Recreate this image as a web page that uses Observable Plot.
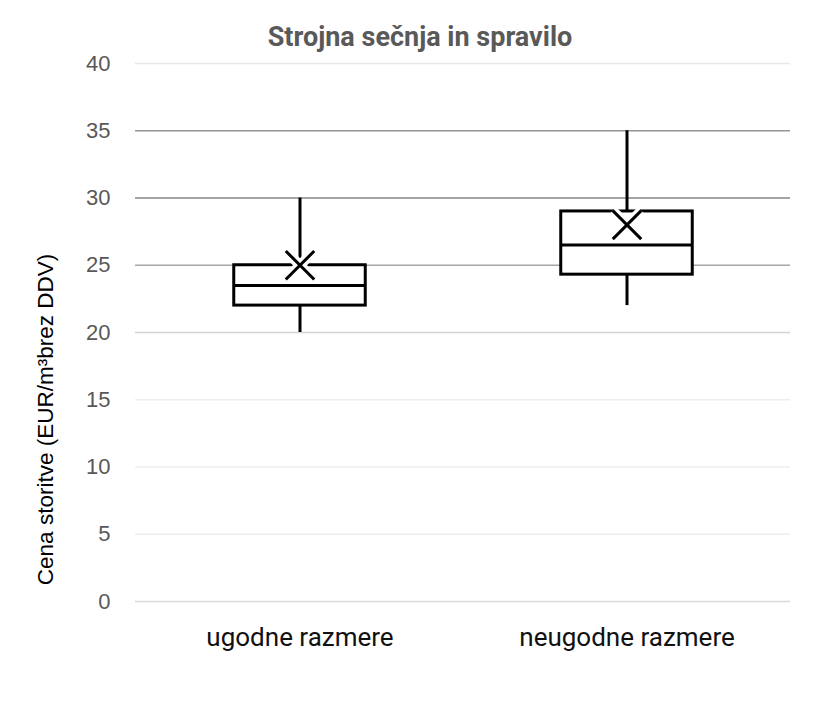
<!DOCTYPE html>
<html>
<head>
<meta charset="utf-8">
<script src="https://cdn.jsdelivr.net/npm/d3@7"></script>
<script src="https://cdn.jsdelivr.net/npm/@observablehq/plot@0.6"></script>
<style>
  html, body { margin: 0; padding: 0; background: #fff; }
  #title {
    width: 840px; height: 50px; box-sizing: border-box; padding-top: 22px;
    text-align: center; font-family: "Roboto", sans-serif;
    font-weight: 700; font-size: 27px; line-height: 30px; color: #595959;
  }
</style>
</head>
<body>
<div id="title">Strojna sečnja in spravilo</div>
<div id="chart"></div>
<script>
const categories = ["ugodne razmere", "neugodne razmere"];
const minValues = [20, 22];
const q1Values = [22, 24.3];
const medianValues = [23.5, 26.5];
const q3Values = [25, 29];
const maxValues = [30, 35];
const meanValues = [25, 28];
const yTicks = [0, 5, 10, 15, 20, 25, 30, 35, 40];
const yLabel = "Cena storitve (EUR/m³brez DDV)";

const rows = categories.map((c, i) => ({
  cat: c, min: minValues[i], q1: q1Values[i], med: medianValues[i],
  q3: q3Values[i], max: maxValues[i], mean: meanValues[i]
}));

// gridline shades as they appear in the reference
const gridShade = {0: "#d9d9d9", 5: "#eeeeee", 10: "#eeeeee", 15: "#eeeeee", 20: "#d4d4d4", 25: "#a6a6a6", 30: "#868686", 35: "#959595", 40: "#e8e8e8"};

const inset = 97.75;
const chart = Plot.plot({
  width: 840,
  height: 670,
  marginTop: 13,
  marginBottom: 119,
  marginLeft: 135,
  marginRight: 50,
  style: {fontFamily: "Liberation Sans, Arial, sans-serif", background: "#fff"},
  x: {domain: categories, padding: 0},
  y: {domain: [0, 40]},
  marks: [
    Plot.ruleY(yTicks, {y: d => d, stroke: d => gridShade[d], strokeWidth: 1.3}),
    Plot.axisY({ticks: yTicks, tickSize: 0, tickPadding: 25, label: null, fontSize: 22, fill: "#595959"}),
    Plot.axisX({tickSize: 0, tickPadding: 26, label: null, fontSize: 26, fill: "#111",
      fontFamily: "Roboto, sans-serif"}),
    Plot.ruleX(rows, {x: "cat", y1: "min", y2: "q1", stroke: "#000", strokeWidth: 3}),
    Plot.ruleX(rows, {x: "cat", y1: "q3", y2: "max", stroke: "#000", strokeWidth: 3}),
    Plot.barY(rows, {x: "cat", y1: "q1", y2: "q3", fill: "#fff", stroke: "#000", strokeWidth: 3, insetLeft: inset, insetRight: inset}),
    Plot.tickY(rows, {x: "cat", y: "med", stroke: "#000", strokeWidth: 3, insetLeft: inset, insetRight: inset}),
    Plot.dot(rows, {x: "cat", y: "mean", symbol: "times", r: 13, stroke: "#fff", strokeWidth: 10}),
    Plot.dot(rows, {x: "cat", y: "mean", symbol: "times", r: 13, stroke: "#000", strokeWidth: 3}),
    Plot.text([yLabel], {frameAnchor: "left", textAnchor: "middle", dx: -90, dy: 87, rotate: -90, fontSize: 22.5, fill: "#000", text: d => d})
  ]
});
document.getElementById("chart").appendChild(chart);
</script>
</body>
</html>
